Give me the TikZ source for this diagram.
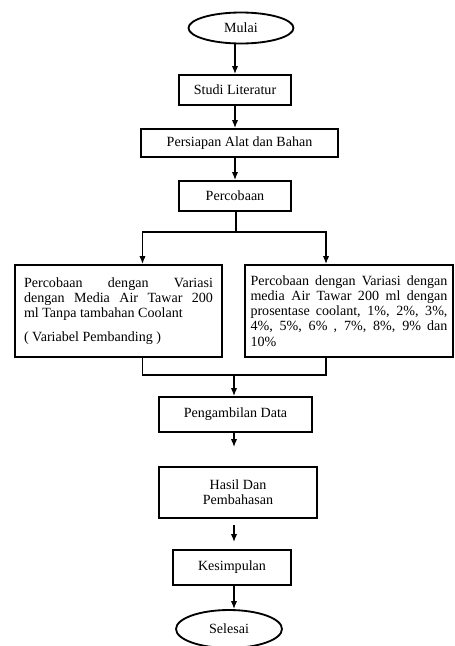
\documentclass[tikz,border=0pt]{standalone}
\usepackage{fontspec}
\setmainfont{Liberation Serif}
\usetikzlibrary{shapes.geometric,arrows.meta,positioning,calc}

\begin{document}
\begin{tikzpicture}[x=0.02cm, y=-0.02cm,
    box/.style={rectangle, draw, line width=1.05pt, font=\fontsize{8}{8.6}\selectfont, align=center, inner sep=1pt},
    term/.style={ellipse, draw, line width=1.05pt, font=\fontsize{8}{8.6}\selectfont, inner sep=1pt},
    textbox/.style={rectangle, draw, line width=1.05pt, font=\fontsize{8}{8.6}\selectfont, align=justify, minimum width=4.15cm, minimum height=1.84cm},
    arrow/.style={-{Latex[length=4.5pt,width=3.6pt]}, line width=0.85pt},
    line/.style={line width=0.85pt}
]
\useasboundingbox (0,0) rectangle (455,646);

% Start
\node at (241,28) [term, minimum width=2.1cm, minimum height=0.62cm] (mulai) {Mulai};

% Preparation steps
\node at (235,90) [box, minimum width=2.24cm, minimum height=0.6cm] (studi) {Studi Literatur};
\node at (239.5,143) [box, minimum width=3.94cm, minimum height=0.56cm] (persiapan) {Persiapan Alat dan Bahan};
\node at (235,196) [box, minimum width=2.24cm, minimum height=0.6cm] (percobaan) {Percobaan};

\draw [arrow] (mulai.south -| studi) -- (studi);
\draw [arrow] (studi) -- (studi |- persiapan.north);
\draw [arrow] (percobaan |- persiapan.south) -- (percobaan);

% Two variations
\node at (118.5,311) [textbox, text width=3.78cm, inner xsep=0.18cm] (kiri) {Percobaan dengan Variasi\linebreak dengan Media Air Tawar 200\linebreak ml Tanpa tambahan Coolant\par\vspace{5pt}( Variabel Pembanding )};
\node at (349,311) [textbox, text width=3.94cm, inner xsep=0.1cm] (kanan) {Percobaan dengan Variasi dengan\linebreak media Air Tawar 200 ml dengan\linebreak prosentase coolant, 1\%, 2\%, 3\%,\linebreak 4\%, 5\%, 6\% , 7\%, 8\%, 9\% dan\linebreak 10\%};

\coordinate (split) at (236,232);
\draw [line] (percobaan.south -| split) -- (split);
\draw [arrow] (split) -| ([xshift=0.48cm]kiri.north);
\draw [arrow] (split) -| ([xshift=-0.46cm]kanan.north);

% Join back
\coordinate (join) at (234,375);
\draw [line] ([xshift=0.48cm]kiri.south) |- (join) -| ([xshift=-0.46cm]kanan.south);

% Data and results
\node at (235.5,414.5) [box, minimum width=3.06cm, minimum height=0.7cm] (ambil) {Pengambilan Data};
\node at (238,492.5) [box, minimum width=3.16cm, minimum height=1.02cm] (hasil) {Hasil Dan\\Pembahasan};
\node at (232,567.5) [box, minimum width=2.36cm, minimum height=0.7cm] (kesimpulan) {Kesimpulan};
\node at (229,629) [term, minimum width=2.12cm, minimum height=0.76cm] (selesai) {Selesai};

\draw [arrow] (join) -- (join |- ambil.north);
\draw [arrow, shorten >=0.38cm] (ambil.south -| join) -- (join |- hasil.north);
\draw [arrow, shorten <=0.12cm, shorten >=0.14cm] (hasil.south -| join) -- (join |- kesimpulan.north);
\draw [arrow] (kesimpulan.south -| join) -- (join |- selesai.north);

\end{tikzpicture}
\end{document}
